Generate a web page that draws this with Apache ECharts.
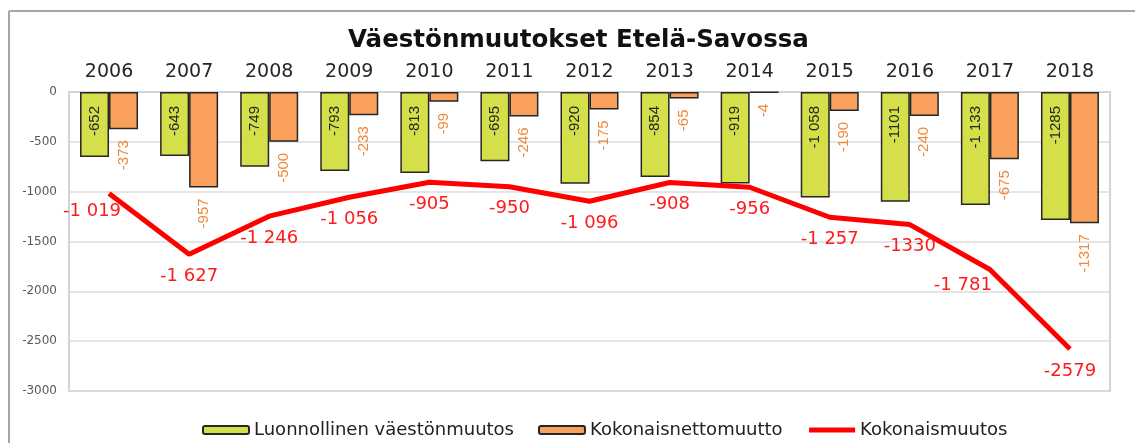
<!DOCTYPE html>
<html>
<head>
<meta charset="utf-8">
<script src="https://cdn.jsdelivr.net/npm/echarts@6/dist/echarts.min.js"></script>
<style>
html,body{margin:0;padding:0;background:#fff;}
#chart{width:1135px;height:443px;}
</style>
</head>
<body>
<div id="chart"></div>
<script>
// ---- data ----
const years = ['2006','2007','2008','2009','2010','2011','2012','2013','2014','2015','2016','2017','2018'];
const natural = [-652,-643,-749,-793,-813,-695,-920,-854,-919,-1058,-1101,-1133,-1285];
const netMigration = [-373,-957,-500,-233,-99,-246,-175,-65,-4,-190,-240,-675,-1317];
const total = [-1019,-1627,-1246,-1056,-905,-950,-1096,-908,-956,-1257,-1330,-1781,-2579];
const naturalText = ['-652','-643','-749','-793','-813','-695','-920','-854','-919','-1 058','-1101','-1 133','-1285'];
const netText = ['-373','-957','-500','-233','-99','-246','-175','-65','-4','-190','-240','-675','-1317'];
const totalText = ['-1 019','-1 627','-1 246','-1 056','-905','-950','-1 096','-908','-956','-1 257','-1330','-1 781','-2579'];
const yTicks = [0,-500,-1000,-1500,-2000,-2500,-3000];
const seriesNames = ['Luonnollinen väestönmuutos','Kokonaisnettomuutto','Kokonaismuutos'];
const chartTitle = 'Väestönmuutokset Etelä-Savossa';

// ---- style helpers (label nudges, not data) ----
const totalLabelNudge = {0:[-17,-4], 11:[-27,-6]};

const chart = echarts.init(document.getElementById('chart'), null, {renderer:'canvas'});
const option = {
  animation:false,
  backgroundColor:'#ffffff',
  textStyle:{fontFamily:'DejaVu Sans'},
  graphic:[
    {type:'line', shape:{x1:9,y1:11,x2:1135,y2:11}, style:{stroke:'#a6a6a6',lineWidth:2}, silent:true},
    {type:'line', shape:{x1:9,y1:11,x2:9,y2:443}, style:{stroke:'#a6a6a6',lineWidth:2}, silent:true}
  ],
  title:{
    text:chartTitle, left:343, top:23,
    textStyle:{fontFamily:'DejaVu Sans', fontWeight:'bold', fontSize:24.5, color:'#111'}
  },
  legend:{
    left:197, top:416, itemWidth:46, itemHeight:8, itemGap:24,
    textStyle:{fontFamily:'DejaVu Sans', fontSize:18, color:'#222'},
    data:[
      seriesNames[0],
      seriesNames[1],
      {name:seriesNames[2], itemStyle:{opacity:0}, lineStyle:{width:5, color:'#ff0000'}}
    ]
  },
  grid:{left:69, right:25, top:92, bottom:52, show:true, borderColor:'#d4d4d4', borderWidth:2, backgroundColor:'transparent'},
  xAxis:{
    type:'category', position:'top', data:years,
    axisTick:{show:false},
    axisLine:{show:true, lineStyle:{color:'#d4d4d4', width:2}},
    axisLabel:{fontFamily:'DejaVu Sans', fontSize:19, color:'#262626', margin:10}
  },
  yAxis:{
    type:'value', min:-3000, max:0, interval:500,
    axisLine:{show:false}, axisTick:{show:false},
    axisLabel:{fontFamily:'DejaVu Sans', fontSize:12, color:'#595959', margin:12,
      formatter:function(v){ return yTicks.indexOf(v)>=0 ? String(v) : ''; }},
    splitLine:{lineStyle:{color:'#dcdcdc', width:1.5}}
  },
  series:[
    {
      name:seriesNames[0], type:'bar', data:natural, barWidth:29, barGap:'0%',
      itemStyle:{color:'#d5df4a', borderColor:'#262626', borderWidth:1.5},
      label:{show:true, position:'insideTop', distance:14, rotate:90, align:'right', verticalAlign:'middle',
        fontFamily:'Liberation Sans', fontSize:15, color:'#262626',
        formatter:function(p){return naturalText[p.dataIndex];}}
    },
    {
      name:seriesNames[1], type:'bar', data:netMigration, barWidth:29, barGap:'0%',
      itemStyle:{color:'#f8a05c', borderColor:'#262626', borderWidth:1.5},
      label:{show:true, position:'bottom', distance:11, rotate:90, align:'right', verticalAlign:'middle',
        fontFamily:'Liberation Sans', fontSize:15, color:'#f0883a',
        formatter:function(p){return netText[p.dataIndex];}}
    },
    {
      name:seriesNames[2], type:'line', z:5,
      data:total.map(function(v,i){
        const n = totalLabelNudge[i];
        return n ? {value:v, label:{offset:n}} : v;
      }),
      symbol:'circle', symbolSize:0, showSymbol:true,
      lineStyle:{color:'#ff0000', width:5}, itemStyle:{color:'#ff0000'},
      label:{show:true, position:'bottom', distance:13, fontFamily:'DejaVu Sans', fontSize:18, color:'#ff1a1a',
        formatter:function(p){return totalText[p.dataIndex];}}
    }
  ]
};
chart.setOption(option);
</script>
</body>
</html>
